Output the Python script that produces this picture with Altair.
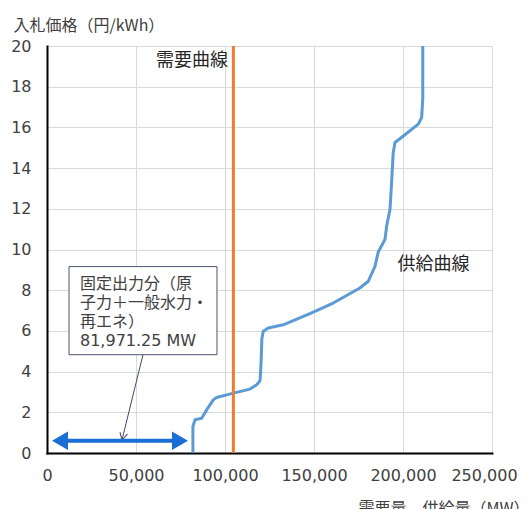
import altair as alt
import pandas as pd

# ---- data ----
supply_x = [81971, 81971, 83150, 86900, 89700, 93400, 95300, 104700, 114000,
            117800, 119700, 120300, 120700, 121500, 124300, 132700, 147700,
            160800, 175800, 180500, 184300, 186100, 189900, 190800, 192700,
            193600, 194500, 195500, 200200, 208600, 210500, 211100, 211100]
supply_y = [0, 1.3, 1.63, 1.71, 2.12, 2.61, 2.73, 2.94, 3.14,
            3.35, 3.56, 4.5, 5.6, 5.98, 6.14, 6.3, 6.85,
            7.37, 8.11, 8.44, 9.18, 9.88, 10.5, 11.15, 11.97,
            13.29, 14.76, 15.26, 15.58, 16.16, 16.49, 17.4, 20]
demand_x = [104700]
fixed_output = 81971.25

x_ticks = [0, 50000, 100000, 150000, 200000, 250000]
y_ticks = [0, 2, 4, 6, 8, 10, 12, 14, 16, 18, 20]

box_text = ["固定出力分（原\n子力＋一般水力・\n再エネ）\n81,971.25 MW"]
box_x = [12360, 95500]
box_y = [4.83, 9.16]
text_pos = [18540, 8.69]
pointer = [53930, 4.83, 42130, 0.64]
arrow_x = [7300, 74700]
arrow_y = 0.6
labels = ["需要曲線", "供給曲線"]
label_x = [81460, 217130]
label_y = [19.26, 9.26]

JP = "Noto Sans CJK JP"
NUM = "DejaVu Sans"
MIX = "DejaVu Sans, Noto Sans CJK JP"
TXT = "#404040"

xs = alt.Scale(domain=[0, 250000], nice=False, zero=False)
ys = alt.Scale(domain=[0, 20], nice=False)

x_axis = alt.Axis(
    values=x_ticks, format=",d", labelFont=NUM, labelFontSize=16, labelColor=TXT,
    labelPadding=14, ticks=False, domainColor="black", domainWidth=2,
    gridColor="#D9D9D9", gridWidth=1, labelOverlap=False, labelFlush=False,
    labelOffset={"condition": {"test": "datum.value == 250000", "value": -8}, "value": 0},
    title="需要量、供給量（MW）", titleFont=JP, titleFontSize=16, titleFontWeight="normal",
    titleColor=TXT, titleAlign="right", titleBaseline="middle", titleX=482, titleY=55,
    titleAnchor="end",
)
y_axis = alt.Axis(
    values=y_ticks, labelFont=NUM, labelFontSize=16, labelColor=TXT,
    labelPadding=16, ticks=False, domainColor="black", domainWidth=2,
    gridColor="#D9D9D9", gridWidth=1,
    title="入札価格（円/kWh）", titleFont=JP, titleFontSize=16, titleFontWeight="normal",
    titleColor=TXT, titleAngle=0, titleAlign="left", titleBaseline="middle",
    titleX=-34, titleY=-21,
)

supply_df = pd.DataFrame({"x": supply_x, "y": supply_y, "i": range(len(supply_x))})
supply = alt.Chart(supply_df).mark_line(color="#5B9BD5", strokeWidth=3, strokeJoin="round").encode(
    x=alt.X("x:Q", scale=xs, axis=x_axis),
    y=alt.Y("y:Q", scale=ys, axis=y_axis),
    order="i:O",
)

demand = alt.Chart(pd.DataFrame({"x": demand_x, "y": [0], "y2": [20]})).mark_rule(
    color="#ED7D31", strokeWidth=3).encode(x="x:Q", y="y:Q", y2="y2:Q")

box = alt.Chart(pd.DataFrame({"x": [box_x[0]], "x2": [box_x[1]], "y": [box_y[0]], "y2": [box_y[1]]})).mark_rect(
    fill="white", stroke="#4A5570", strokeWidth=1).encode(x="x:Q", x2="x2:Q", y="y:Q", y2="y2:Q")

btext = alt.Chart(pd.DataFrame({"x": [text_pos[0]], "y": [text_pos[1]], "t": box_text})).mark_text(
    align="left", baseline="top", font=MIX, fontSize=16, lineBreak="\n", lineHeight=19,
    color=TXT).encode(x="x:Q", y="y:Q", text="t:N")

pline = alt.Chart(pd.DataFrame({"x": [pointer[0]], "y": [pointer[1]], "x2": [pointer[2]], "y2": [pointer[3]]})).mark_rule(
    color="#3F4866", strokeWidth=1).encode(x="x:Q", y="y:Q", x2="x2:Q", y2="y2:Q")

phead = alt.Chart(pd.DataFrame({"x": [pointer[2]], "y": [pointer[3]]})).mark_point(
    shape="M-0.55,-1L0,0L0.55,-1", filled=False, stroke="#3F4866", strokeWidth=1,
    size=196, angle=14, opacity=1).encode(x="x:Q", y="y:Q")

arrow_line = alt.Chart(pd.DataFrame({"x": [arrow_x[0]], "x2": [arrow_x[1]], "y": [arrow_y]})).mark_rule(
    color="#1A6FD6", strokeWidth=4).encode(x="x:Q", x2="x2:Q", y="y:Q")

heads_df = pd.DataFrame({"x": arrow_x, "y": [arrow_y, arrow_y], "s": ["triangle-left", "triangle-right"]})
arrow_heads = alt.Chart(heads_df).mark_point(filled=True, color="#1A6FD6", size=340, opacity=1).encode(
    x="x:Q", y="y:Q",
    shape=alt.Shape("s:N", scale=alt.Scale(domain=["triangle-left", "triangle-right"],
                                           range=["triangle-left", "triangle-right"]), legend=None),
)

lab = alt.Chart(pd.DataFrame({"x": label_x, "y": label_y, "t": labels})).mark_text(
    align="center", baseline="middle", font=JP, fontSize=18, color="#262626").encode(
    x="x:Q", y="y:Q", text="t:N")

chart = alt.layer(supply, demand, box, btext, pline, phead, arrow_line, arrow_heads, lab).properties(
    width=445, height=407,
    autosize=alt.AutoSizeParams(type="none"),
    padding={"left": 39, "top": 38, "right": 29, "bottom": 56},
).configure_view(stroke=None).configure_axis(domainCap="square")

chart.save("out.html", embed_options={"renderer": "svg", "actions": False})
